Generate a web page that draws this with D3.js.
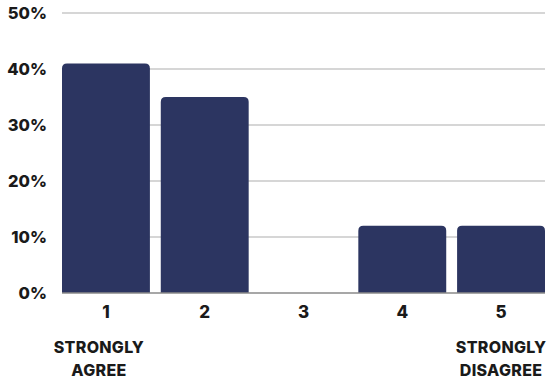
<!DOCTYPE html>
<html><head><meta charset="utf-8">
<script src="https://cdn.jsdelivr.net/npm/d3@7"></script>
<style>body{margin:0;background:#fff}svg{display:block}text{font-family:Inter,"DejaVu Sans",sans-serif;font-weight:800;fill:#1a1a1a}</style>
</head><body><svg width="548" height="380"></svg>
<script>
const categories = ["1","2","3","4","5"];
const values = [41, 35, 0, 12, 12];
const yTicks = [0,10,20,30,40,50];
const endLabels = [["STRONGLY","AGREE"],null,null,null,["STRONGLY","DISAGREE"]];

const svg = d3.select("svg");
const x = d3.scaleBand().domain(categories).range([62,545]).paddingInner(0.11).paddingOuter(0);
const y = d3.scaleLinear().domain([0,50]).range([293,13]);

svg.append("g").selectAll("line").data(yTicks.filter(d=>d>0)).join("line")
  .attr("x1",62).attr("x2",545).attr("y1",d=>y(d)).attr("y2",d=>y(d))
  .attr("stroke","#c8c8c8").attr("stroke-width",1.5);

svg.append("g").selectAll("text").data(yTicks).join("text")
  .attr("x",47).attr("y",d=>y(d)+6).attr("text-anchor","end")
  .attr("font-size",16.5).text(d=>d+"%");

const r = 5;
svg.append("g").selectAll("path").data(categories.map((c,i)=>({c,v:values[i]})).filter(d=>d.v>0)).join("path")
  .attr("fill","#2c3561")
  .attr("d",d=>{
    const x0=x(d.c), w=x.bandwidth(), y0=y(d.v), yb=y(0);
    return `M${x0},${yb}V${y0+r}Q${x0},${y0} ${x0+r},${y0}H${x0+w-r}Q${x0+w},${y0} ${x0+w},${y0+r}V${yb}Z`;
  });

svg.append("line").attr("x1",62).attr("x2",545).attr("y1",y(0)).attr("y2",y(0))
  .attr("stroke","#8a8a8a").attr("stroke-width",1.5);

svg.append("g").selectAll("text").data(categories).join("text")
  .attr("x",d=>x(d)+x.bandwidth()/2).attr("y",318).attr("text-anchor","middle")
  .attr("font-size",17).text(d=>d);

categories.forEach((c,i)=>{
  if(!endLabels[i]) return;
  const dx = i === 0 ? -7 : 0;
  endLabels[i].forEach((t,j)=>{
    svg.append("text").attr("x",x(c)+x.bandwidth()/2+dx).attr("y",353+j*23)
      .attr("text-anchor","middle").attr("font-size",16).attr("letter-spacing",0.3).text(t);
  });
});
</script></body></html>
